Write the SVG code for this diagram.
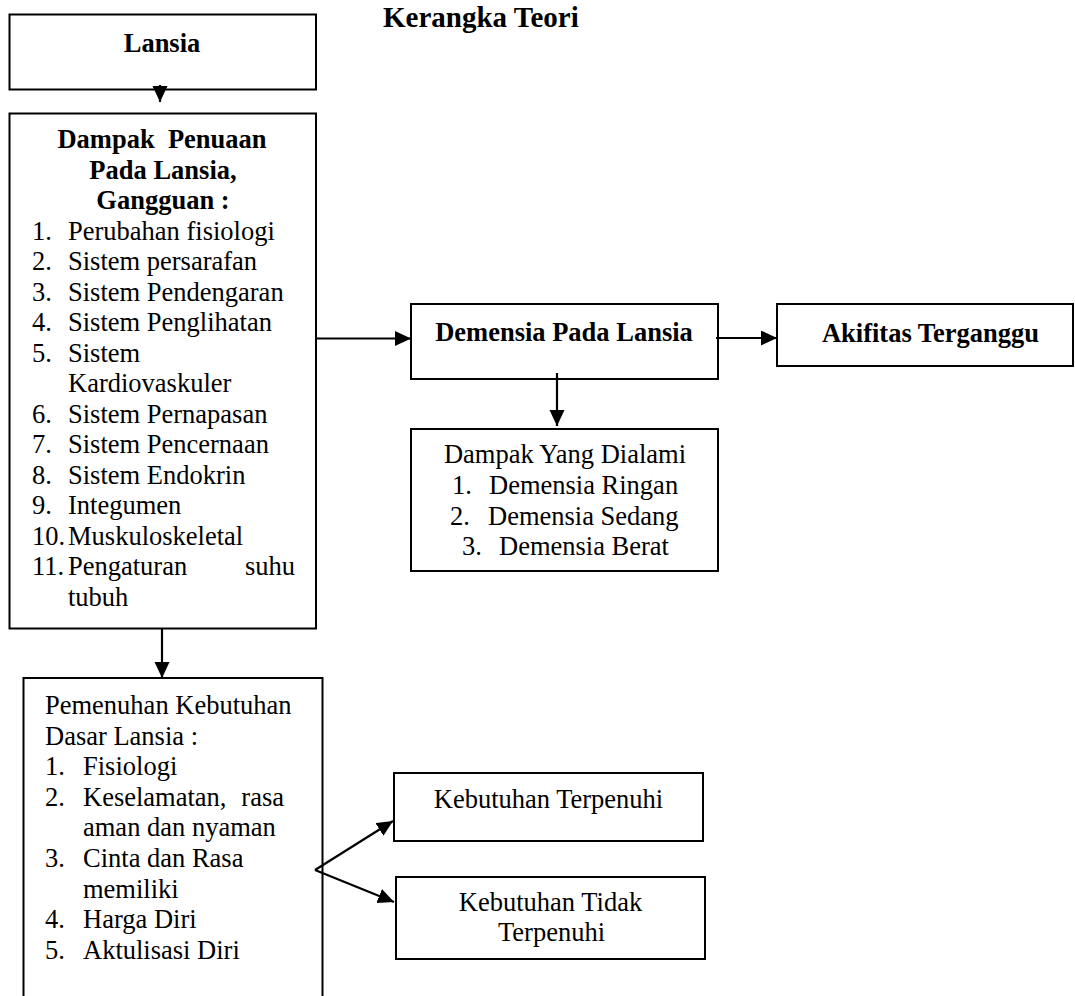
<svg xmlns="http://www.w3.org/2000/svg" width="1075" height="996" viewBox="0 0 1075 996">
<style>
.box{fill:#fff;stroke:#000;stroke-width:2}
.t{font-family:"Liberation Serif","Times New Roman",serif;font-size:26.5px;fill:#000}
.b{font-weight:bold}
.c{text-anchor:middle}
.e{text-anchor:end}
.con{fill:none;stroke:#000;stroke-width:2.2;marker-end:url(#ah)}
</style>
<defs>
<marker id="ah" markerUnits="userSpaceOnUse" markerWidth="18" markerHeight="16" refX="16" refY="7.5" orient="auto">
<path d="M0,0 L16,7.5 L0,15 Z" fill="#000"/>
</marker>
</defs>
<rect width="1075" height="996" fill="#fff"/>
<text class="t b" x="383" y="27" style="font-size:29px">Kerangka Teori</text>

<g id="lansia">
<rect class="box" x="9.5" y="14.5" width="306.5" height="75"/>
<text class="t b c" x="162" y="52">Lansia</text>
</g>

<g id="dampak-penuaan">
<rect class="box" x="9.5" y="113.5" width="306.5" height="515"/>
<text class="t b c" x="162" y="148" xml:space="preserve">Dampak  Penuaan</text>
<text class="t b c" x="163" y="178.5">Pada Lansia,</text>
<text class="t b c" x="163" y="209">Gangguan :</text>
<text class="t" x="32" y="239.6">1.</text><text class="t" x="68" y="239.6">Perubahan fisiologi</text>
<text class="t" x="32" y="270.1">2.</text><text class="t" x="68" y="270.1">Sistem persarafan</text>
<text class="t" x="32" y="300.7">3.</text><text class="t" x="68" y="300.7">Sistem Pendengaran</text>
<text class="t" x="32" y="331.2">4.</text><text class="t" x="68" y="331.2">Sistem Penglihatan</text>
<text class="t" x="32" y="361.7">5.</text><text class="t" x="68" y="361.7">Sistem</text>
<text class="t" x="68" y="392.2">Kardiovaskuler</text>
<text class="t" x="32" y="422.8">6.</text><text class="t" x="68" y="422.8">Sistem Pernapasan</text>
<text class="t" x="32" y="453.3">7.</text><text class="t" x="68" y="453.3">Sistem Pencernaan</text>
<text class="t" x="32" y="483.8">8.</text><text class="t" x="68" y="483.8">Sistem Endokrin</text>
<text class="t" x="32" y="514.4">9.</text><text class="t" x="68" y="514.4">Integumen</text>
<text class="t" x="32" y="544.9">10.</text><text class="t" x="68" y="544.9">Muskuloskeletal</text>
<text class="t" x="32" y="575.4">11.</text><text class="t" x="68" y="575.4">Pengaturan</text><text class="t e" x="295" y="575.4">suhu</text>
<text class="t" x="68" y="606">tubuh</text>
</g>

<g id="demensia">
<rect class="box" x="411" y="304" width="307" height="75"/>
<text class="t b c" x="564" y="341">Demensia Pada Lansia</text>
</g>

<g id="akifitas">
<rect class="box" x="777" y="304" width="296" height="62"/>
<text class="t b c" x="930.5" y="342">Akifitas Terganggu</text>
</g>

<g id="dampak-dialami">
<rect class="box" x="411" y="429" width="307" height="142"/>
<text class="t c" x="565" y="463">Dampak Yang Dialami</text>
<text class="t" x="452" y="494">1.</text><text class="t" x="489" y="494">Demensia Ringan</text>
<text class="t" x="450" y="525">2.</text><text class="t" x="488" y="525">Demensia Sedang</text>
<text class="t" x="462" y="555">3.</text><text class="t" x="499" y="555">Demensia Berat</text>
</g>

<g id="pemenuhan">
<rect class="box" x="23.5" y="678" width="299" height="340"/>
<text class="t" x="45" y="714">Pemenuhan Kebutuhan</text>
<text class="t" x="45" y="744.6">Dasar Lansia :</text>
<text class="t" x="45" y="775.2">1.</text><text class="t" x="83" y="775.2">Fisiologi</text>
<text class="t" x="45" y="805.8">2.</text><text class="t" x="83" y="805.8">Keselamatan,</text><text class="t e" x="284" y="805.8">rasa</text>
<text class="t" x="83" y="836.4">aman dan nyaman</text>
<text class="t" x="45" y="867">3.</text><text class="t" x="83" y="867">Cinta dan Rasa</text>
<text class="t" x="83" y="897.6">memiliki</text>
<text class="t" x="45" y="928.2">4.</text><text class="t" x="83" y="928.2">Harga Diri</text>
<text class="t" x="45" y="958.8">5.</text><text class="t" x="83" y="958.8">Aktulisasi Diri</text>
</g>

<g id="terpenuhi">
<rect class="box" x="394" y="773" width="309" height="68"/>
<text class="t c" x="548.5" y="808">Kebutuhan Terpenuhi</text>
</g>

<g id="tidak-terpenuhi">
<rect class="box" x="396" y="877" width="309" height="82"/>
<text class="t c" x="550.5" y="911">Kebutuhan Tidak</text>
<text class="t c" x="551.5" y="941">Terpenuhi</text>
</g>

<g id="connectors">
<path class="con" d="M160,85 L160,102"/>
<path class="con" d="M316,338.5 L411,338.5"/>
<path class="con" d="M716,338 L777,338"/>
<path class="con" d="M557,373 L557,426"/>
<path class="con" d="M162,629 L162,678"/>
<path class="con" d="M315,870 L393,821"/>
<path class="con" d="M315,870 L394,902"/>
</g>
</svg>
